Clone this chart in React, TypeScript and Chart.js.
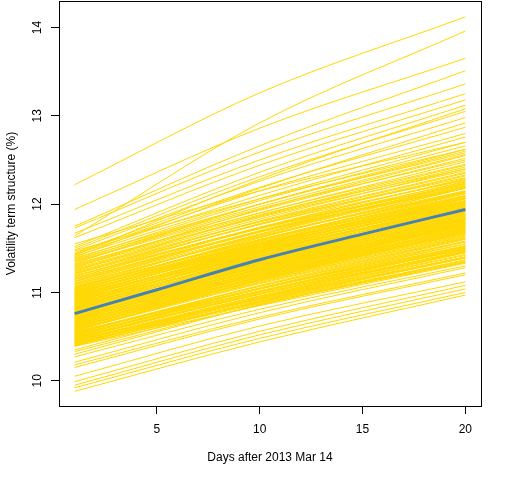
import { useEffect, useRef } from "react";
import { Chart, registerables } from "chart.js";

Chart.register(...registerables);

// Horizons at which each simulated term structure was read (days after 2013 Mar 14)
const horizonDays = [1, 10, 20];

// Volatility (%) of each simulated path at day 1, day 10 and day 20
const volDay1 = [
  12.22, 11.64, 11.94, 11.75, 11.73, 11.67, 11.62, 11.52, 11.50, 11.48, 11.45, 11.44, 11.55, 11.47,
  11.42, 11.40, 11.38, 11.36, 11.35, 11.33, 11.31, 11.30, 11.28, 11.27, 11.25, 11.24, 11.22, 11.21,
  11.19, 11.18, 11.16, 11.15, 11.13, 11.12, 11.10, 11.09,
  11.07, 11.06, 11.05, 11.04, 11.02, 11.01, 11.00, 10.99, 10.98, 10.97, 10.96, 10.95, 10.94, 10.93,
  10.92, 10.91, 10.90, 10.89, 10.88, 10.87, 10.86, 10.85, 10.84, 10.83, 10.82, 10.81, 10.80, 10.79,
  10.78, 10.77, 10.76, 10.75, 10.74, 10.73, 10.72, 10.71, 10.70, 10.69, 10.68, 10.67, 10.66, 10.65,
  10.64, 10.63, 10.62, 10.61, 10.60, 10.59, 10.58, 10.57, 10.56, 10.55, 10.54, 10.53, 10.52, 10.51,
  10.50, 10.49, 10.48, 10.47, 10.46, 10.45, 10.44, 10.43, 10.42, 10.41, 10.40, 10.39,
  10.35, 10.33, 10.30, 10.27, 10.21, 10.18, 10.15, 10.05, 9.99, 9.95, 9.92, 9.88,
  10.395, 10.405, 10.415, 10.425, 10.435, 10.445, 10.455, 10.465, 10.475, 10.485, 10.495, 10.505,
  10.515, 10.525, 10.535, 10.545, 10.555, 10.565, 10.575, 10.585, 10.595, 10.605, 10.615, 10.625,
  10.635, 10.645, 10.655, 10.665, 10.675, 10.685, 10.695, 10.705, 10.715, 10.725, 10.735, 10.745,
  10.755, 10.765, 10.775, 10.785, 10.795, 10.805, 10.815, 10.825, 10.835, 10.845, 10.855, 10.865,
  10.875, 10.885, 10.895, 10.905, 10.915, 10.925, 10.935, 10.945, 10.955, 10.965, 10.975, 10.985,
  10.995, 11.005, 11.015, 11.025, 11.035, 11.045, 11.055, 11.065, 11.085, 11.105, 11.125, 11.145,
  11.165, 11.185, 11.205, 11.23, 11.26, 11.29, 11.32, 11.345, 11.37, 11.39, 11.41, 11.43,
];
const volDay10 = [
  13.26, 12.92, 12.86, 12.66, 12.59, 12.50, 12.44, 12.36, 12.31, 12.26, 12.19, 12.15, 12.15, 12.06,
  12.28, 12.18, 12.04, 12.00, 11.95, 12.00, 11.90, 11.88, 11.94, 11.85, 11.80, 11.87, 11.77, 11.81,
  11.73, 11.78, 11.73, 11.69, 11.73, 11.68, 11.69, 11.64,
  11.65, 11.59, 11.66, 11.60, 11.55, 11.62, 11.55, 11.52, 11.58, 11.52, 11.47, 11.54, 11.49, 11.46,
  11.51, 11.46, 11.42, 11.48, 11.43, 11.39, 11.45, 11.40, 11.36, 11.41, 11.37, 11.33, 11.39, 11.34,
  11.30, 11.36, 11.31, 11.28, 11.34, 11.29, 11.25, 11.30, 11.26, 11.22, 11.27, 11.23, 11.19, 11.24,
  11.20, 11.16, 11.22, 11.17, 11.13, 11.18, 11.14, 11.10, 11.15, 11.07, 11.04, 11.08, 11.04, 11.01,
  11.05, 11.01, 10.98, 11.00, 10.96, 10.92, 10.96, 10.93, 10.89, 10.93, 10.89, 10.85,
  10.90, 10.86, 10.86, 10.81, 10.77, 10.72, 10.70, 10.62, 10.56, 10.52, 10.48, 10.44,
  10.90, 10.87, 10.94, 10.91, 10.88, 10.95, 10.94, 10.93, 10.98, 10.99, 10.98, 11.04,
  11.02, 11.01, 11.07, 11.05, 11.04, 11.14, 11.12, 11.11, 11.17, 11.15, 11.14, 11.20,
  11.18, 11.17, 11.23, 11.21, 11.20, 11.26, 11.24, 11.23, 11.29, 11.27, 11.26, 11.32,
  11.30, 11.29, 11.35, 11.33, 11.32, 11.38, 11.36, 11.35, 11.41, 11.39, 11.38, 11.44,
  11.42, 11.41, 11.47, 11.45, 11.44, 11.50, 11.48, 11.47, 11.53, 11.51, 11.50, 11.56,
  11.54, 11.53, 11.59, 11.57, 11.56, 11.62, 11.60, 11.59, 11.63, 11.66, 11.70, 11.69,
  11.74, 11.72, 11.77, 11.80, 11.83, 11.86, 11.90, 11.93, 11.97, 12.00, 12.06, 12.10,
];
const volDay20 = [
  14.12, 13.96, 13.65, 13.51, 13.36, 13.25, 13.18, 13.12, 13.05, 12.98, 12.87, 12.80, 12.70, 12.62,
  13.08, 12.92, 12.66, 12.58, 12.50, 12.62, 12.45, 12.40, 12.55, 12.38, 12.30, 12.44, 12.27, 12.36,
  12.22, 12.33, 12.25, 12.18, 12.29, 12.20, 12.24, 12.15,
  12.19, 12.08, 12.23, 12.13, 12.04, 12.18, 12.07, 12.02, 12.14, 12.03, 11.96, 12.09, 12.00, 11.95,
  12.06, 11.98, 11.91, 12.02, 11.94, 11.87, 11.99, 11.91, 11.84, 11.96, 11.88, 11.82, 11.93, 11.85,
  11.79, 11.91, 11.83, 11.77, 11.88, 11.80, 11.74, 11.85, 11.78, 11.71, 11.82, 11.75, 11.68, 11.79,
  11.72, 11.66, 11.77, 11.69, 11.63, 11.73, 11.67, 11.61, 11.70, 11.58, 11.52, 11.61, 11.55, 11.49,
  11.58, 11.52, 11.46, 11.51, 11.45, 11.39, 11.47, 11.42, 11.36, 11.45, 11.39, 11.33,
  11.40, 11.34, 11.37, 11.30, 11.28, 11.22, 11.20, 11.12, 11.08, 11.04, 11.00, 10.97,
  11.40, 11.34, 11.48, 11.40, 11.35, 11.46, 11.43, 11.40, 11.50, 11.49, 11.47, 11.57,
  11.52, 11.50, 11.60, 11.55, 11.53, 11.69, 11.64, 11.62, 11.72, 11.67, 11.65, 11.76,
  11.70, 11.68, 11.78, 11.73, 11.71, 11.81, 11.76, 11.74, 11.84, 11.79, 11.77, 11.87,
  11.82, 11.80, 11.90, 11.85, 11.83, 11.93, 11.88, 11.86, 11.97, 11.91, 11.89, 12.00,
  11.94, 11.92, 12.03, 11.97, 11.95, 12.06, 12.00, 11.98, 12.09, 12.03, 12.01, 12.12,
  12.06, 12.04, 12.15, 12.09, 12.07, 12.18, 12.12, 12.10, 12.14, 12.20, 12.26, 12.21,
  12.28, 12.23, 12.32, 12.35, 12.40, 12.42, 12.48, 12.52, 12.56, 12.60, 12.70, 12.76,
];

// Average term structure (blue line)
const meanDays = [1, 5, 10, 15, 20];
const meanVol = [10.76, 11.03, 11.37, 11.66, 11.94];

const xTickValues = [5, 10, 15, 20];
const yTickValues = [10, 11, 12, 13, 14];
const xTitle = "Days after 2013 Mar 14";
const yTitle = "Volatility term structure (%)";

const FONT = { family: "'Liberation Sans', Arial, sans-serif", size: 12 };

export default function App() {
  const ref = useRef<HTMLCanvasElement>(null);

  useEffect(() => {
    if (!ref.current) return;
    const columns = [volDay1, volDay10, volDay20];
    const yellow = volDay1.map((_, i) => ({
      data: horizonDays.map((d, k) => ({ x: d, y: columns[k][i] })),
      borderColor: "#FFD700",
      borderWidth: 1,
      pointRadius: 0,
      fill: false,
      cubicInterpolationMode: "monotone" as const,
      order: 1,
    }));
    const blue = {
      data: meanDays.map((d, k) => ({ x: d, y: meanVol[k] })),
      borderColor: "#4682B4",
      borderWidth: 3,
      pointRadius: 0,
      fill: false,
      cubicInterpolationMode: "monotone" as const,
      order: 0,
    };

    const boxPlugin = {
      id: "box",
      afterDraw(chart: any) {
        const { ctx, chartArea: a } = chart;
        ctx.save();
        ctx.strokeStyle = "#000";
        ctx.lineWidth = 1;
        ctx.strokeRect(
          Math.round(a.left) + 0.5,
          Math.round(a.top) + 0.5,
          Math.round(a.right - a.left),
          Math.round(a.bottom - a.top)
        );
        ctx.restore();
      },
    };

    const grid = {
      drawOnChartArea: false,
      drawTicks: true,
      tickLength: 8,
      color: "#000",
      lineWidth: 1,
    };

    const chart = new Chart(ref.current, {
      type: "line",
      data: { datasets: [blue, ...yellow] as any },
      options: {
        animation: false,
        responsive: false,
        events: [],
        layout: { padding: { left: 0, top: 1, right: 31, bottom: 0 } },
        plugins: { legend: { display: false }, tooltip: { enabled: false } },
        scales: {
          x: {
            type: "linear",
            min: 0.24,
            max: 20.76,
            afterBuildTicks: (s: any) => {
              s.ticks = xTickValues.map((v) => ({ value: v }));
            },
            afterFit: (s: any) => {
              s.height = 74;
              s.paddingLeft = 0;
              s.paddingRight = 0;
            },
            grid,
            border: { display: false },
            ticks: {
              color: "#000",
              font: FONT,
              padding: 8,
              maxRotation: 0,
              autoSkip: false,
              callback: (v: any) => String(v),
            },
            title: {
              display: true,
              text: xTitle,
              color: "#000",
              font: FONT,
              padding: { top: 0, bottom: 15 },
            },
          },
          y: {
            type: "linear",
            min: 9.714,
            max: 14.3,
            afterBuildTicks: (s: any) => {
              s.ticks = yTickValues.map((v) => ({ value: v }));
            },
            afterFit: (s: any) => {
              s.width = 59;
              s.paddingTop = 0;
              s.paddingBottom = 0;
            },
            grid,
            border: { display: false },
            ticks: {
              color: "#000",
              font: FONT,
              padding: 7,
              minRotation: 90,
              maxRotation: 90,
              crossAlign: "center",
              autoSkip: false,
              callback: (v: any) => String(v),
            },
            title: {
              display: true,
              text: yTitle,
              color: "#000",
              font: FONT,
              padding: { top: 4, bottom: 0 },
            },
          },
        },
      } as any,
      plugins: [boxPlugin],
    });
    return () => chart.destroy();
  }, []);

  return (
    <div style={{ position: "absolute", left: 0, top: 0, width: 512, height: 480, background: "#fff" }}>
      <canvas ref={ref} width={512} height={480} />
    </div>
  );
}
